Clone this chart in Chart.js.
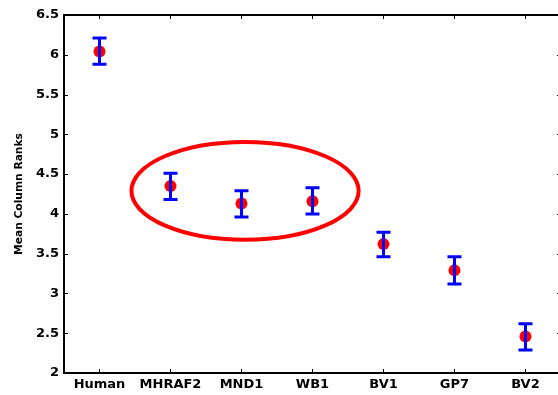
<!DOCTYPE html>
<html>
<head>
<meta charset="utf-8">
<script src="https://cdn.jsdelivr.net/npm/chart.js@4.4.0/dist/chart.umd.min.js"></script>
<style>
  html, body { margin: 0; padding: 0; background: #fff; overflow: hidden; }
  canvas { display: block; }
</style>
</head>
<body>
<canvas id="graphique" width="558" height="395"></canvas>
<script>
// ---- data ----
const categories = ["Human", "MHRAF2", "MND1", "WB1", "BV1", "GP7", "BV2"];
const meanRanks  = [6.04, 4.35, 4.13, 4.16, 3.62, 3.29, 2.46];
const errTop     = [6.21, 4.51, 4.29, 4.33, 3.77, 3.46, 2.62];
const errBottom  = [5.88, 4.18, 3.96, 4.00, 3.46, 3.12, 2.29];
const yTicks     = [2, 2.5, 3, 3.5, 4, 4.5, 5, 5.5, 6, 6.5];
// highlighted group (in data units)
const ellipse    = { cx: 3.05, cy: 4.29, rx: 1.6, ry: 0.615 };
// the original axes box runs to x = 7.5, just past the picture's right edge
const xBoxMax = 7.5;

const points = categories.map((c, i) => ({ x: i + 1, y: meanRanks[i] }));
const labelFont = { family: "'DejaVu Sans', Arial", size: 13, weight: "bold" };

// error bars, frame, inward ticks and the ellipse
const extras = {
  id: "extras",
  afterDatasetsDraw(chart) {
    const { ctx, chartArea: a, scales: { x, y } } = chart;
    const right = x.getPixelForValue(xBoxMax);
    ctx.save();

    // ellipse
    ctx.strokeStyle = "#ff0000";
    ctx.lineWidth = 4;
    ctx.beginPath();
    const px = x.getPixelForValue(ellipse.cx), py = y.getPixelForValue(ellipse.cy);
    const rx = x.getPixelForValue(ellipse.cx + ellipse.rx) - px;
    const ry = py - y.getPixelForValue(ellipse.cy + ellipse.ry);
    ctx.ellipse(px, py, rx, ry, 0, 0, Math.PI * 2);
    ctx.stroke();

    // error bars
    ctx.strokeStyle = "#0000ff";
    ctx.lineWidth = 3;
    categories.forEach((c, i) => {
      const cx = x.getPixelForValue(i + 1);
      const t = y.getPixelForValue(errTop[i]);
      const b = y.getPixelForValue(errBottom[i]);
      ctx.beginPath();
      ctx.moveTo(cx, t); ctx.lineTo(cx, b);
      ctx.moveTo(cx - 7, t); ctx.lineTo(cx + 7, t);
      ctx.moveTo(cx - 7, b); ctx.lineTo(cx + 7, b);
      ctx.stroke();
    });

    // inward tick marks
    ctx.strokeStyle = "#000";
    ctx.lineWidth = 1;
    ctx.beginPath();
    yTicks.forEach(v => {
      const p = Math.round(y.getPixelForValue(v)) + 0.5;
      ctx.moveTo(a.left, p); ctx.lineTo(a.left + 4, p);
      ctx.moveTo(right, p); ctx.lineTo(right - 4, p);
    });
    categories.forEach((c, i) => {
      const p = Math.round(x.getPixelForValue(i + 1)) + 0.5;
      ctx.moveTo(p, a.bottom); ctx.lineTo(p, a.bottom - 4);
      ctx.moveTo(p, a.top); ctx.lineTo(p, a.top + 4);
    });
    ctx.stroke();

    // frame
    ctx.lineWidth = 2;
    ctx.strokeRect(a.left, a.top, right - a.left, a.bottom - a.top);
    ctx.restore();
  }
};

function createChart() {
  const ctx = document.getElementById("graphique");
  new Chart(ctx, {
    type: "scatter",
    data: {
      datasets: [{
        data: points,
        pointRadius: 6,
        pointHoverRadius: 6,
        pointBackgroundColor: "#ff0000",
        pointBorderWidth: 0,
        showLine: false
      }]
    },
    options: {
      responsive: false,
      maintainAspectRatio: false,
      devicePixelRatio: 1,
      animation: false,
      layout: { autoPadding: false, padding: { top: 15, right: 0, left: 0, bottom: 0 } },
      plugins: { legend: { display: false }, tooltip: { enabled: false } },
      scales: {
        x: {
          type: "linear",
          min: 0.5,
          max: 7.458,
          afterBuildTicks: s => { s.ticks = categories.map((c, i) => ({ value: i + 1 })); },
          afterFit: s => { s.height = 22; s.paddingRight = 0; s.paddingLeft = 0; },
          ticks: {
            autoSkip: false,
            maxRotation: 0,
            padding: 4,
            color: "#000",
            font: labelFont,
            callback: v => categories[v - 1]
          },
          grid: { display: false, drawTicks: false, tickLength: 0 },
          border: { display: false }
        },
        y: {
          min: 2,
          max: 6.5,
          afterBuildTicks: s => { s.ticks = yTicks.map(v => ({ value: v })); },
          afterFit: s => { s.width = 64; },
          ticks: {
            padding: 5,
            color: "#000",
            font: labelFont,
            callback: v => String(v)
          },
          title: {
            display: true,
            text: "Mean Column Ranks",
            color: "#000",
            padding: { top: 13, bottom: 0 },
            font: { family: "'DejaVu Sans', Arial", size: 10.7, weight: "bold" }
          },
          grid: { display: false, drawTicks: false, tickLength: 0 },
          border: { display: false }
        }
      }
    },
    plugins: [extras]
  });
}

document.addEventListener("DOMContentLoaded", createChart);
</script>
</body>
</html>
